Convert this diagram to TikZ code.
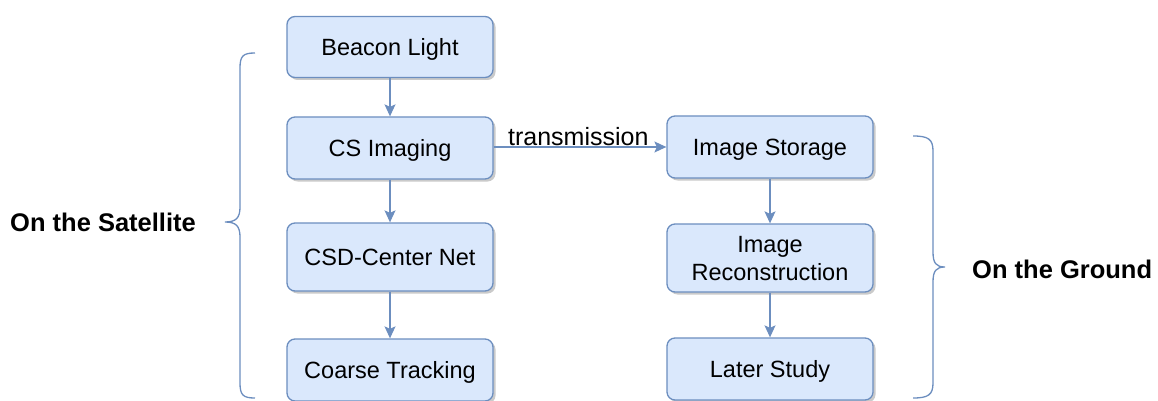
\documentclass[tikz,border=0pt]{standalone}
\usepackage{fontspec}
\setmainfont{Liberation Sans}
\usetikzlibrary{shadows,arrows.meta}
\definecolor{boxfill}{HTML}{DAE8FC}
\definecolor{boxline}{HTML}{6C8EBF}
\tikzset{
  stepbox/.style={draw=boxline, fill=boxfill, line width=1.3pt, rounded corners=8pt,
    minimum width=206pt, inner sep=0pt, align=center,
    text height=16.8pt, text depth=0pt,
    font=\fontsize{23.5}{28}\selectfont,
    drop shadow={shadow xshift=2.5pt, shadow yshift=-2.5pt, opacity=0.35, fill=black!60}},
  flow/.style={draw=boxline, line width=1.3pt, -{Stealth[length=12pt,width=11pt,inset=2.5pt]}},
  brace/.style={draw=boxline, line width=1.3pt},
  sidelabel/.style={font=\fontsize{25.5}{30}\selectfont\bfseries, inner sep=0pt}
}
\begin{document}
\begin{tikzpicture}[x=1pt,y=-1pt]
\useasboundingbox (0,0) rectangle (1158,401);

% satellite side
\node[stepbox, minimum height=61pt] (beacon) at (390,47) {Beacon Light};
\node[stepbox, minimum height=62pt] (cs) at (390,148) {CS Imaging};
\node[stepbox, minimum height=68pt] (csd) at (390,257) {CSD-Center Net};
\node[stepbox, minimum height=62pt] (coarse) at (390,370) {Coarse Tracking};

% ground side
\node[stepbox, minimum height=62pt] (storage) at (770,147) {Image Storage};
\node[stepbox, minimum height=68pt, text height=44.8pt] (recon) at (770,258) {Image\\Reconstruction};
\node[stepbox, minimum height=62pt] (later) at (770,369) {Later Study};

% flow
\draw[flow] (beacon) -- (cs);
\draw[flow] (cs) -- (csd);
\draw[flow] (csd) -- (coarse);
\draw[flow] (storage) -- (recon);
\draw[flow] (recon) -- (later);
\draw[flow] (cs.east |- storage.west) -- node[above, inner sep=1pt, pos=0.49,
  font=\fontsize{25}{30}\selectfont] {transmission} (storage.west);

% braces
\coordinate (lb-top) at (255,53);
\coordinate (lb-tip) at (225,222);
\coordinate (lb-bot) at (255,398);
\draw[brace] (lb-top) .. controls (243,53) and (240,56) .. (240,68) -- (240,207)
  .. controls (240,218) and (236,222) .. (lb-tip)
  .. controls (236,222) and (240,226) .. (240,237) -- (240,383)
  .. controls (240,395) and (243,398) .. (lb-bot);

\coordinate (rb-top) at (913,136);
\coordinate (rb-tip) at (945,267);
\coordinate (rb-bot) at (913,398);
\draw[brace] (rb-top) .. controls (928,136) and (933,139) .. (933,151) -- (933,252)
  .. controls (933,263) and (936,267) .. (rb-tip)
  .. controls (936,267) and (933,271) .. (933,282) -- (933,383)
  .. controls (933,395) and (928,398) .. (rb-bot);

% labels
\node[sidelabel, anchor=west] (sat) at (10,222) {On the Satellite};
\node[sidelabel, anchor=west] (ground) at (972,269) {On the Ground};
\end{tikzpicture}
\end{document}
